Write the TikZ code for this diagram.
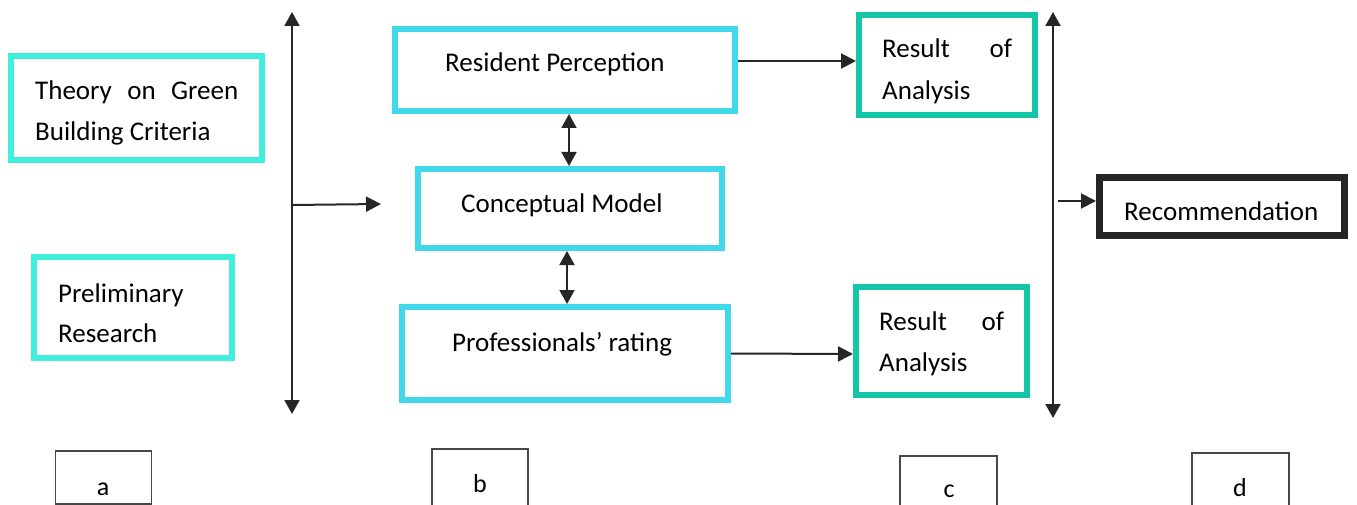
\documentclass[tikz,border=0pt]{standalone}
\usepackage{fontspec}
\setmainfont{Carlito}
\usetikzlibrary{arrows.meta}
\definecolor{turq}{HTML}{41EFDE}
\definecolor{cyanb}{HTML}{41D9EA}
\definecolor{teal}{HTML}{13C6A8}
\definecolor{ink}{HTML}{262626}
\tikzset{
  box/.style={draw, rectangle, inner sep=0pt, line width=6pt},
  turqbox/.style={box, draw=turq},
  cyanbox/.style={box, draw=cyanb},
  tealbox/.style={box, draw=teal},
  blackbox/.style={box, draw=ink, line width=7pt},
  labbox/.style={draw=ink!85, line width=1.5pt, rectangle, inner sep=0pt},
  txt/.style={anchor=base west, inner sep=0pt, font=\fontsize{27}{41}\selectfont, text=black},
  lab/.style={anchor=base, inner sep=0pt, font=\fontsize{26}{30}\selectfont, text=black},
  arr/.style={draw=ink, line width=2pt, -{Triangle[length=15pt,width=15pt]}},
  darr/.style={draw=ink, line width=2pt, {Triangle[length=14pt,width=15pt]}-{Triangle[length=14pt,width=15pt]}},
}
\begin{document}
\begin{tikzpicture}[x=1pt,y=-1pt]
\useasboundingbox (0,0) rectangle (1357,505);
\clip (0,0) rectangle (1357,505);
% boxes
\node[turqbox, minimum width=251pt, minimum height=104pt] (th) at (136.5,108) {};
\node[turqbox, minimum width=198pt, minimum height=101pt] (pr) at (133,307.5) {};
\node[cyanbox, minimum width=340pt, minimum height=82pt] (rp) at (565,70) {};
\node[cyanbox, minimum width=304pt, minimum height=79pt] (cm) at (570,208.5) {};
\node[cyanbox, minimum width=326pt, minimum height=93pt] (pf) at (565,353.5) {};
\node[tealbox, minimum width=176pt, minimum height=100pt] (r1) at (947,65) {};
\node[tealbox, minimum width=171pt, minimum height=108pt] (r2) at (941.5,341) {};
\node[blackbox, minimum width=245pt, minimum height=58pt] (rec) at (1222,206.5) {};
% texts
\node[txt, text width=203pt] (t1) at (35,100) {Theory\hfill on\hfill Green};
\node[txt] (t2) at (35,141) {Building Criteria};
\node[txt] (t3) at (58,302) {Preliminary};
\node[txt] (t4) at (58,342) {Research};
\node[txt] (t5) at (445,72) {Resident Perception};
\node[txt] (t6) at (461,212) {Conceptual Model};
\node[txt] (t7) at (452,351) {Professionals’ rating};
\node[txt, text width=130pt] (t8) at (882,58) {Result\hfill of};
\node[txt] (t9) at (882,100) {Analysis};
\node[txt, text width=125pt] (t10) at (879,330) {Result\hfill of};
\node[txt] (t11) at (879,371) {Analysis};
\node[txt] (t12) at (1124,221) {Recommendation};
% bottom label boxes
\node[labbox, minimum width=96pt, minimum height=53pt] (la) at (103.5,477.5) {};
\node[labbox, minimum width=96pt, minimum height=80pt] (lb) at (480,489) {};
\node[labbox, minimum width=97pt, minimum height=80pt] (lc) at (948.5,496) {};
\node[labbox, minimum width=97pt, minimum height=80pt] (ld) at (1240.5,493) {};
\node[lab] (a) at (103,495) {a};
\node[lab] (b) at (480,492) {b};
\node[lab] (c) at (949,497) {c};
\node[lab] (d) at (1240,496) {d};
% connectors
\coordinate (v1t) at (292,12);
\coordinate (v1b) at (292,414);
\coordinate (v1m) at (292,205);
\coordinate (h1e) at (381,204);
\draw[darr] (v1b) -- (v1t);
\draw[arr] (v1m) -- (h1e);
\draw[darr] ([xshift=4pt]rp.south) -- ([xshift=-1pt]cm.north);
\draw[darr] ([xshift=-3pt]cm.south) -- ([xshift=2pt]pf.north);
\draw[arr] ([yshift=9pt]rp.east) -- ([yshift=4pt]r1.west);
\draw[arr] (pf.east) -- ([yshift=-13pt]r2.west);
\coordinate (v2t) at (1053,12);
\coordinate (v2b) at (1053,418);
\coordinate (v2m) at (1058,201);
\draw[darr] (v2b) -- (v2t);
\draw[arr] (v2m) -- (rec.west |- v2m);
\end{tikzpicture}
\end{document}
